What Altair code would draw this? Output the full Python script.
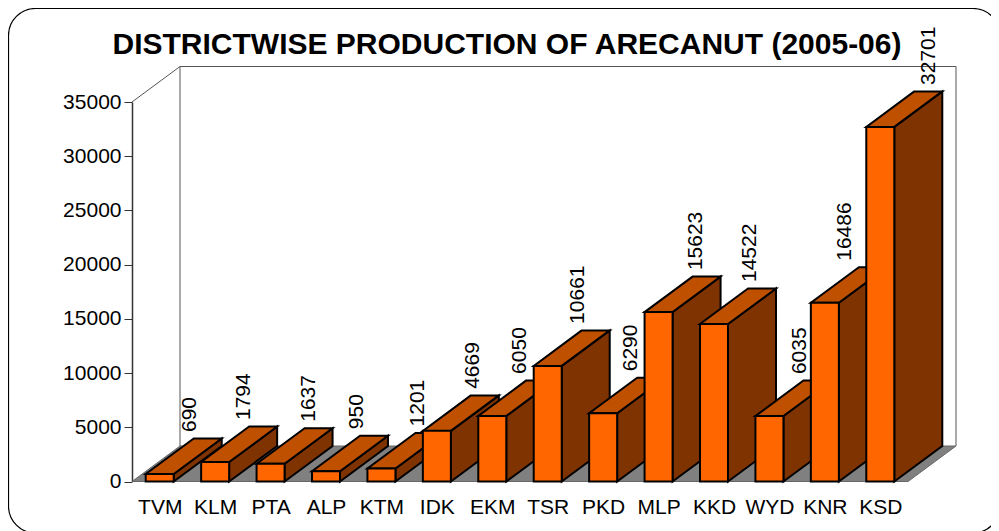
import altair as alt
import pandas as pd

districts = ["TVM", "KLM", "PTA", "ALP", "KTM", "IDK", "EKM", "TSR", "PKD", "MLP", "KKD", "WYD", "KNR", "KSD"]
production = [690, 1794, 1637, 950, 1201, 4669, 6050, 10661, 6290, 15623, 14522, 6035, 16486, 32701]
title_text = "DISTRICTWISE PRODUCTION OF ARECANUT (2005-06)"
y_ticks = [0, 5000, 10000, 15000, 20000, 25000, 30000, 35000]

# layout
PLOT_W, PLOT_H = 776, 379.5
DEPTH_X = 48 / PLOT_W * 14      # depth of the 3D box in x-scale units
DEPTH_Y = 35.5 / PLOT_H * 35000  # depth of the 3D box in y-scale units
BAR_W = 28 / PLOT_W * 14
label_nudge = [30, 29, 38, 31, 37, 36, 28, 30, 28, 37, 36, 31, 20, 49]  # px right of bar centre

x_scale = alt.Scale(domain=[0, 14], nice=False, zero=False)
y_scale = alt.Scale(domain=[0, 35000], nice=False, zero=False)
FONT = "Liberation Sans"
label_expr = "[" + ",".join(f"'{d}'" for d in districts) + "][floor(datum.value)]"
x_axis = alt.Axis(
    values=[i + 0.5 for i in range(14)], labelExpr=label_expr, labelFont=FONT, labelFontSize=21,
    labelColor="#000000", labelPadding=15, labelOverlap=False, labelFlush=False, ticks=False, domain=False,
    grid=False, title=None)
y_axis = alt.Axis(
    values=y_ticks, labelFont=FONT, labelFontSize=21, labelColor="#000000", labelPadding=3,
    tickSize=8, tickColor="#333333", domainColor="#333333", domainWidth=1.5, grid=False, format="d", title=None)


def X(name="x"):
    return alt.X(f"{name}:Q", scale=x_scale, axis=x_axis)


def Y(name="y"):
    return alt.Y(f"{name}:Q", scale=y_scale, axis=y_axis)


def h_poly(x0, x1, y0, fill, stroke, width):
    """Parallelogram with horizontal top and bottom edges, receding into the chart."""
    d = pd.DataFrame({"y": [y0, y0 + DEPTH_Y], "a": [x0, x0 + DEPTH_X], "b": [x1, x1 + DEPTH_X]})
    return alt.Chart(d).mark_area(orient="horizontal", fill=fill, stroke=stroke, strokeWidth=width, strokeJoin="miter").encode(
        x=X("a"), x2="b:Q", y=Y("y"))


def v_poly(x0, y_low, y_high, fill, stroke, width):
    """Parallelogram with vertical edges, receding into the chart."""
    d = pd.DataFrame({"x": [x0, x0 + DEPTH_X], "lo": [y_low, y_low + DEPTH_Y], "hi": [y_high, y_high + DEPTH_Y]})
    return alt.Chart(d).mark_area(orient="vertical", fill=fill, stroke=stroke, strokeWidth=width, strokeJoin="miter").encode(
        x=X("x"), y=Y("lo"), y2="hi:Q")


def wall_line(xs, ys):
    d = pd.DataFrame({"x": xs, "y": ys})
    return alt.Chart(d).mark_line(color="#555555", strokeWidth=1).encode(x=X("x"), y=Y("y"))


layers = []

# rounded outer frame
layers.append(
    alt.Chart(pd.DataFrame({"k": [0]})).mark_rect(
        cornerRadius=27, fill="#ffffff", fillOpacity=0, stroke="#000000", strokeWidth=1.2
    ).encode(x=alt.value(-123.5), x2=alt.value(868), y=alt.value(-93.5), y2=alt.value(431))
)

# title
layers.append(
    alt.Chart(pd.DataFrame({"t": [title_text]})).mark_text(
        font=FONT, fontSize=30, fontWeight="bold", color="#000000", align="center", baseline="alphabetic"
    ).encode(x=alt.value(375), y=alt.value(-48), text="t:N")
)

# floor and walls
layers.append(h_poly(0, 14, 0, "#808080", "#666666", 1))
layers.append(wall_line([DEPTH_X, DEPTH_X], [DEPTH_Y, 35000 + DEPTH_Y]))
layers.append(wall_line([DEPTH_X, 14 + DEPTH_X], [35000 + DEPTH_Y, 35000 + DEPTH_Y]))
layers.append(wall_line([14 + DEPTH_X, 14 + DEPTH_X], [DEPTH_Y, 35000 + DEPTH_Y]))
layers.append(wall_line([0, DEPTH_X], [35000, 35000 + DEPTH_Y]))

# 3D bars, drawn in category order so that later bars overlap earlier ones
for i, v in enumerate(production):
    x0 = i + 0.5 - BAR_W / 2
    x1 = i + 0.5 + BAR_W / 2
    layers.append(v_poly(x1, 0, v, "#7F3300", "#000000", 2))
    layers.append(h_poly(x0, x1, v, "#BF5000", "#000000", 2))
    front = pd.DataFrame({"a": [x0], "b": [x1], "lo": [0], "hi": [v]})
    layers.append(
        alt.Chart(front).mark_rect(fill="#FF6600", stroke="#000000", strokeWidth=2).encode(
            x=X("a"), x2="b:Q", y=Y("lo"), y2="hi:Q")
    )

# value labels
labels = pd.DataFrame({
    "x": [i + 0.5 + n / PLOT_W * 14 for i, n in enumerate(label_nudge)],
    "y": [v + DEPTH_Y for v in production],
    "t": [str(v) for v in production],
})
layers.append(
    alt.Chart(labels).mark_text(angle=270, align="left", baseline="middle", dx=6.5, font=FONT, fontSize=21, color="#000000").encode(
        x=X("x"), y=Y("y"), text="t:N")
)

chart = alt.layer(*layers).properties(
    width=PLOT_W,
    height=PLOT_H,
    padding={"left": 124, "top": 94, "right": 83, "bottom": 49.5},
    autosize=alt.AutoSizeParams(type="none"),
    background="#ffffff",
).configure_view(stroke=None)

chart.save("out.html", embed_options={"renderer": "svg", "actions": False})
